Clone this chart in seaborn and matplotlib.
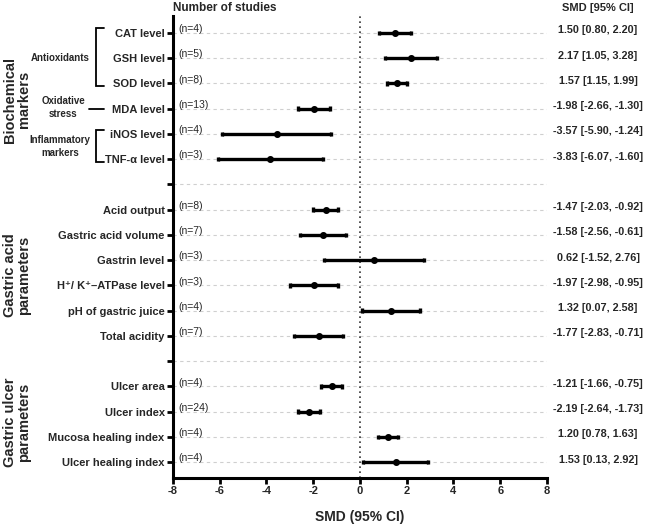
import matplotlib
matplotlib.use("Agg")
import matplotlib.pyplot as plt
import matplotlib.transforms as mtransforms
import seaborn as sns
import pandas as pd

sns.set_theme(style="white")
plt.rcParams['font.family'] = ['Liberation Sans', 'DejaVu Sans']

# ---------------- data ----------------
labels = ["CAT level", "GSH level", "SOD level", "MDA level", "iNOS level", "TNF-α level", " ",
          "Acid output", "Gastric acid volume", "Gastrin level", "H⁺/ K⁺–ATPase level",
          "pH of gastric juice", "Total acidity", "  ",
          "Ulcer area", "Ulcer index", "Mucosa healing index", "Ulcer healing index"]
smd   = [1.50, 2.17, 1.57, -1.98, -3.57, -3.83, None, -1.47, -1.58, 0.62, -1.97, 1.32, -1.77, None,
         -1.21, -2.19, 1.20, 1.53]
lower = [0.80, 1.05, 1.15, -2.66, -5.90, -6.07, None, -2.03, -2.56, -1.52, -2.98, 0.07, -2.83, None,
         -1.66, -2.64, 0.78, 0.13]
upper = [2.20, 3.28, 1.99, -1.30, -1.24, -1.60, None, -0.92, -0.61, 2.76, -0.95, 2.58, -0.71, None,
         -0.75, -1.73, 1.63, 2.92]
n_studies = [4, 5, 8, 13, 4, 3, None, 8, 7, 3, 3, 4, 7, None, 4, 24, 4, 4]
xticks = [-8, -6, -4, -2, 0, 2, 4, 6, 8]

rows = []
for lab, m, lo, hi in zip(labels, smd, lower, upper):
    if m is None:
        continue
    for v in (lo, m, hi):
        rows.append({"label": lab, "value": v})
df = pd.DataFrame(rows)

fig = plt.figure(figsize=(6.69, 5.27), dpi=100)
ax = fig.add_axes([0.2586, 0.093, 0.5590, 0.8767])

sns.pointplot(data=df, x="value", y="label", order=labels, estimator="median",
              errorbar=("pi", 100), linestyle="none", color="black",
              markersize=3, capsize=0.18,
              err_kws={"linewidth": 2.4, "solid_capstyle": "butt"}, ax=ax)

ax.set_xlim(-8, 8)
ax.set_ylim(17.63, -0.67)
ax.set_xticks(xticks)
ax.set_xticklabels([str(t) for t in xticks], fontsize=8, fontweight="bold")
ax.set_yticks(range(len(labels)))
ax.set_yticklabels(labels, fontsize=8, fontweight="bold")
ax.set_ylabel("")
ax.set_xlabel("SMD (95% CI)", fontsize=10, fontweight="bold", labelpad=10)

for s in ["top", "right"]:
    ax.spines[s].set_visible(False)
for s in ["left", "bottom"]:
    ax.spines[s].set_linewidth(2.2)
    ax.spines[s].set_color("black")
ax.tick_params(axis="both", direction="out", length=4, width=2, color="black", pad=2,
               left=True, bottom=True)

ax.grid(axis="y", linestyle=(0, (3, 3)), color="#cfcfcf", linewidth=0.8)
ax.set_axisbelow(True)
ax.axvline(0, linestyle=(0, (1, 2)), color="#333333", linewidth=1.2, zorder=1)

# n annotations and SMD text
trans_fig_data = mtransforms.blended_transform_factory(fig.transFigure, ax.transData)
for i, (n, m, lo, hi) in enumerate(zip(n_studies, smd, lower, upper)):
    if n is None:
        continue
    ax.text(-7.75, i - 0.15, f"(n={n})", fontsize=7.5, va="center", ha="left")
    ax.text(0.894, i - 0.1, f"{m:.2f} [{lo:.2f}, {hi:.2f}]", fontsize=7.8,
            fontweight="bold", ha="center", va="center", transform=trans_fig_data)

fig.text(0.2586, 0.985, "Number of studies", fontsize=8.5, fontweight="bold", ha="left", va="center")
fig.text(0.894, 0.985, "SMD [95% CI]", fontsize=8, fontweight="bold", ha="center", va="center")

# group brackets
tb = mtransforms.blended_transform_factory(ax.transAxes, ax.transData)
xb, xe = -0.206, -0.184
def bracket(y0, y1):
    ax.plot([xe, xb, xb, xe], [y0, y0, y1, y1], color="black", lw=1.3,
            transform=tb, clip_on=False, solid_joinstyle="miter")

bracket(-0.2, 2.12)
ax.text(-0.222, 1.0, "Antioxidants", fontsize=7, fontweight="bold", ha="right", va="center", transform=tb)
ax.plot([-0.225, -0.184], [3, 3], color="black", lw=1.3, transform=tb, clip_on=False)
ax.text(-0.294, 2.95, "Oxidative\nstress", fontsize=7, fontweight="bold", ha="center",
        va="center", transform=tb, linespacing=1.3)
bracket(3.85, 5.1)
ax.text(-0.302, 4.5, "Inflammatory\nmarkers", fontsize=7, fontweight="bold", ha="center",
        va="center", transform=tb, linespacing=1.3)

# big group labels
for txt, yc in [("Biochemical\nmarkers", 2.65), ("Gastric acid\nparameters", 9.59),
                ("Gastric ulcer\nparameters", 15.41)]:
    ax.text(-0.417, yc, txt, fontsize=10.5, fontweight="bold", rotation=90,
            ha="center", va="center", transform=tb, linespacing=1.0)

fig.savefig("out.png", dpi=100)
